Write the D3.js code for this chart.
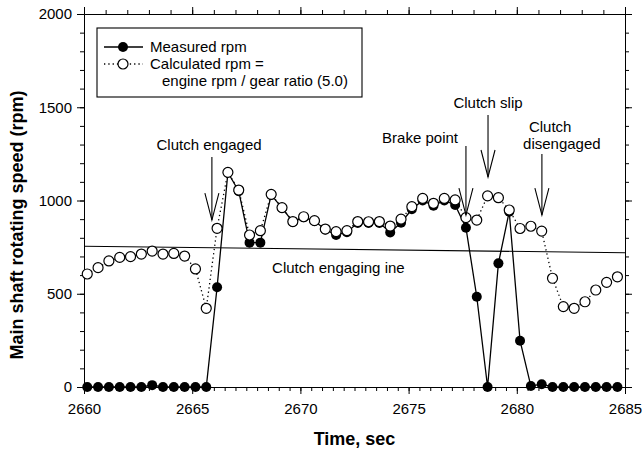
<!DOCTYPE html>
<html>
<head>
<script src="https://d3js.org/d3.v7.min.js"></script>
<style>
  body { margin: 0; background: #fff; }
  text { font-family: 'Liberation Sans', Arial, sans-serif; fill: #000; }
  .axis path, .axis line { stroke: #000; stroke-width: 1px; }
  .axis text { font-size: 15px; }
</style>
</head>
<body>
<svg id="chart"></svg>
<script>
'use strict';

// time stamps (sec), one sample every half second
var times = [2660.15, 2660.65, 2661.15, 2661.65, 2662.15, 2662.65, 2663.15, 2663.65, 2664.15, 2664.65,
             2665.15, 2665.65, 2666.15, 2666.65, 2667.15, 2667.65, 2668.15, 2668.65, 2669.15, 2669.65,
             2670.15, 2670.65, 2671.15, 2671.65, 2672.15, 2672.65, 2673.15, 2673.65, 2674.15, 2674.65,
             2675.15, 2675.65, 2676.15, 2676.65, 2677.15, 2677.65, 2678.15, 2678.65, 2679.15, 2679.65,
             2680.15, 2680.65, 2681.15, 2681.65, 2682.15, 2682.65, 2683.15, 2683.65, 2684.15, 2684.65];

var measured = [0, 0, 0, 0, 0, 0, 10, 0, 0, 0,
                0, 0, 535, 1150, 1050, 774, 774, 1030, 960, 885,
                910, 890, 845, 815, 830, 880, 880, 880, 829, 881,
                953, 1000, 972, 1000, 976, 854, 484, 0, 663, 940,
                248, 5, 15, 0, 0, 0, 0, 0, 0, 0];

var calculated = [606, 640, 676, 695, 699, 713, 729, 713, 716, 702,
                  633, 422, 851, 1151, 1056, 815, 838, 1033, 962, 887,
                  913, 892, 847, 833, 838, 887, 886, 887, 863, 900,
                  967, 1011, 985, 1011, 1003, 908, 895, 1025, 1015, 949,
                  850, 862, 836, 583, 431, 422, 457, 520, 561, 591];

var xTicks = [2660, 2665, 2670, 2675, 2680, 2685];
var yTicks = [0, 500, 1000, 1500, 2000];

// clutch engaging line, start and end
var engageLine = [[2660, 755], [2685, 720]];

// annotations: arrow x, arrow top, arrow tip
var arrows = [
  {x: 2665.91, top: 1233, tip: 895},
  {x: 2677.65, top: 1292, tip: 922},
  {x: 2678.67, top: 1458, tip: 1126},
  {x: 2681.16, top: 1250, tip: 922}
];
var labels = [
  {text: "Clutch engaged", x: 2665.78, y: 1271, anchor: "middle"},
  {text: "Brake point", x: 2675.53, y: 1308, anchor: "middle"},
  {text: "Clutch slip", x: 2678.67, y: 1496, anchor: "middle"},
  {text: "Clutch", x: 2680.56, y: 1367, anchor: "start"},
  {text: "disengaged", x: 2680.29, y: 1276, anchor: "start"},
  {text: "Clutch engaging ine", x: 2668.69, y: 611, anchor: "start"}
];

var width = 642, height = 457;
var margin = {top: 14, right: 17, bottom: 70, left: 84};

var svg = d3.select("#chart").attr("width", width).attr("height", height);

var x = d3.scaleLinear().domain([2660, 2685]).range([margin.left, width - margin.right]);
var y = d3.scaleLinear().domain([0, 2000]).range([height - margin.bottom, margin.top]);

var minorX = d3.range(2660, 2685.01, 0.5);
var minorXTop = d3.range(2660, 2685.01, 1);
var minorY = d3.range(0, 2000.01, 100);

// minor ticks
svg.append("g").attr("class", "axis")
  .attr("transform", "translate(0," + y(0) + ")")
  .call(d3.axisBottom(x).tickValues(minorX).tickSize(4).tickSizeOuter(0).tickFormat(""));
svg.append("g").attr("class", "axis")
  .attr("transform", "translate(0," + y(2000) + ")")
  .call(d3.axisTop(x).tickValues(minorXTop).tickSize(4).tickSizeOuter(0).tickFormat(""));
svg.append("g").attr("class", "axis")
  .attr("transform", "translate(" + x(2660) + ",0)")
  .call(d3.axisLeft(y).tickValues(minorY).tickSize(4).tickSizeOuter(0).tickFormat(""));
svg.append("g").attr("class", "axis")
  .attr("transform", "translate(" + x(2685) + ",0)")
  .call(d3.axisRight(y).tickValues(minorY).tickSize(4).tickSizeOuter(0).tickFormat(""));

// major ticks + labels
svg.append("g").attr("class", "axis")
  .attr("transform", "translate(0," + y(0) + ")")
  .call(d3.axisBottom(x).tickValues(xTicks).tickSize(7).tickSizeOuter(0).tickPadding(9).tickFormat(d3.format("d")));
svg.append("g").attr("class", "axis")
  .attr("transform", "translate(0," + y(2000) + ")")
  .call(d3.axisTop(x).tickValues(xTicks).tickSize(7).tickSizeOuter(0).tickFormat(""));
svg.append("g").attr("class", "axis")
  .attr("transform", "translate(" + x(2660) + ",0)")
  .call(d3.axisLeft(y).tickValues(yTicks).tickSize(7).tickSizeOuter(0).tickPadding(5).tickFormat(d3.format("d")));
svg.append("g").attr("class", "axis")
  .attr("transform", "translate(" + x(2685) + ",0)")
  .call(d3.axisRight(y).tickValues(yTicks).tickSize(7).tickSizeOuter(0).tickFormat(""));

// clutch engaging line
svg.append("path")
  .attr("d", d3.line().x(function(d){ return x(d[0]); }).y(function(d){ return y(d[1]); })(engageLine))
  .attr("stroke", "#000").attr("stroke-width", 1.1).attr("fill", "none");

var measData = times.map(function(t, i){ return [t, measured[i]]; });
var calcData = times.map(function(t, i){ return [t, calculated[i]]; });
var line = d3.line().x(function(d){ return x(d[0]); }).y(function(d){ return y(d[1]); });

svg.append("path").attr("d", line(measData))
  .attr("fill", "none").attr("stroke", "#000").attr("stroke-width", 1.3);
svg.append("path").attr("d", line(calcData))
  .attr("fill", "none").attr("stroke", "#000").attr("stroke-width", 1.3)
  .attr("stroke-dasharray", "1.3,3");

svg.append("g").selectAll("circle").data(measData).enter().append("circle")
  .attr("cx", function(d){ return x(d[0]); })
  .attr("cy", function(d){ return y(d[1]); })
  .attr("r", 5).attr("fill", "#000");
svg.append("g").selectAll("circle").data(calcData).enter().append("circle")
  .attr("cx", function(d){ return x(d[0]); })
  .attr("cy", function(d){ return y(d[1]); })
  .attr("r", 5).attr("fill", "#fff").attr("stroke", "#000").attr("stroke-width", 1.2);

// arrows
var ag = svg.append("g").attr("stroke", "#000").attr("stroke-width", 1.1).attr("fill", "none");
arrows.forEach(function(a){
  var ax = x(a.x), tip = y(a.tip);
  ag.append("line").attr("x1", ax).attr("x2", ax).attr("y1", y(a.top)).attr("y2", tip);
  ag.append("path").attr("d", "M" + (ax - 7) + "," + (tip - 27) + "L" + ax + "," + tip + "L" + (ax + 7) + "," + (tip - 27));
});

svg.append("g").selectAll("text").data(labels).enter().append("text")
  .attr("x", function(d){ return x(d.x); })
  .attr("y", function(d){ return y(d.y); })
  .attr("text-anchor", function(d){ return d.anchor; })
  .style("font-size", "15px")
  .text(function(d){ return d.text; });

// legend
var lg = svg.append("g");
lg.append("rect").attr("x", 97).attr("y", 28).attr("width", 265).attr("height", 69)
  .attr("fill", "#fff").attr("stroke", "#000").attr("stroke-width", 1.1);
lg.append("line").attr("x1", 104).attr("x2", 143).attr("y1", 47).attr("y2", 47)
  .attr("stroke", "#000").attr("stroke-width", 1.3);
lg.append("circle").attr("cx", 123).attr("cy", 47).attr("r", 5).attr("fill", "#000");
lg.append("line").attr("x1", 104).attr("x2", 143).attr("y1", 64).attr("y2", 64)
  .attr("stroke", "#000").attr("stroke-width", 1.3).attr("stroke-dasharray", "1.3,3");
lg.append("circle").attr("cx", 123).attr("cy", 64).attr("r", 5)
  .attr("fill", "#fff").attr("stroke", "#000").attr("stroke-width", 1.2);
lg.append("text").attr("x", 150).attr("y", 52).style("font-size", "15px").text("Measured rpm");
lg.append("text").attr("x", 150).attr("y", 69).style("font-size", "15px").text("Calculated rpm =");
lg.append("text").attr("x", 162).attr("y", 86).style("font-size", "15px").text("engine rpm / gear ratio (5.0)");

// axis titles
svg.append("text").attr("x", x(2672.5)).attr("y", 445)
  .attr("text-anchor", "middle").style("font-size", "18px").style("font-weight", "bold")
  .text("Time, sec");
svg.append("text").attr("transform", "translate(23," + 225 + ") rotate(-90)")
  .attr("text-anchor", "middle").style("font-size", "18px").style("font-weight", "bold")
  .text("Main shaft rotating speed (rpm)");
</script>
</body>
</html>
